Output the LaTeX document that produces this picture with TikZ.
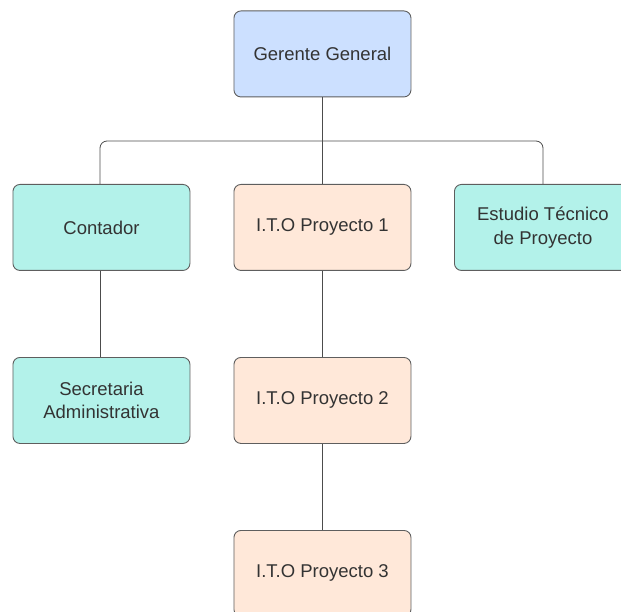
\documentclass[tikz,border=0pt]{standalone}
\usepackage{fontspec}
\setmainfont{Liberation Sans}
\definecolor{bluefill}{HTML}{CCE0FF}
\definecolor{tealfill}{HTML}{B3F2EA}
\definecolor{peachfill}{HTML}{FFE8D9}
\definecolor{edge}{HTML}{5E5E5E}
\begin{document}
\begin{tikzpicture}[x=1pt,y=-1pt,
  box/.style={draw=edge,line width=0.9pt,rounded corners=7pt,minimum width=177pt,minimum height=86pt,inner sep=0pt,align=center,text=black!80,font=\fontsize{18.5}{23.5}\selectfont,anchor=north west},
  link/.style={draw=black!70,line width=0.8pt}]
\useasboundingbox (0,0) rectangle (621,612);
\begin{scope}
\clip (0,0) rectangle (621,612);
\node[box,fill=bluefill] (gg) at (233.5,10.5) {Gerente General};
\node[box,fill=tealfill] (cont) at (12.5,184) {Contador};
\node[box,fill=peachfill] (ito1) at (233.5,184) {I.T.O Proyecto 1};
\node[box,fill=tealfill] (est) at (454,184) {Estudio Técnico\\de Proyecto};
\node[box,fill=tealfill] (sec) at (12.5,357) {Secretaria\\Administrativa};
\node[box,fill=peachfill] (ito2) at (233.5,357) {I.T.O Proyecto 2};
\node[box,fill=peachfill] (ito3) at (233.5,530) {I.T.O Proyecto 3};
\coordinate (bus) at (321,141);
\draw[link] (gg.south) -- (ito1.north);
\draw[link,rounded corners=7pt] (cont.north -| 100,0) |- (bus) -| (est.north -| 543,0);
\draw[link] (cont.south -| 100,0) -- (sec.north -| 100,0);
\draw[link] (ito1.south) -- (ito2.north);
\draw[link] (ito2.south) -- (ito3.north);
\end{scope}
\end{tikzpicture}
\end{document}
